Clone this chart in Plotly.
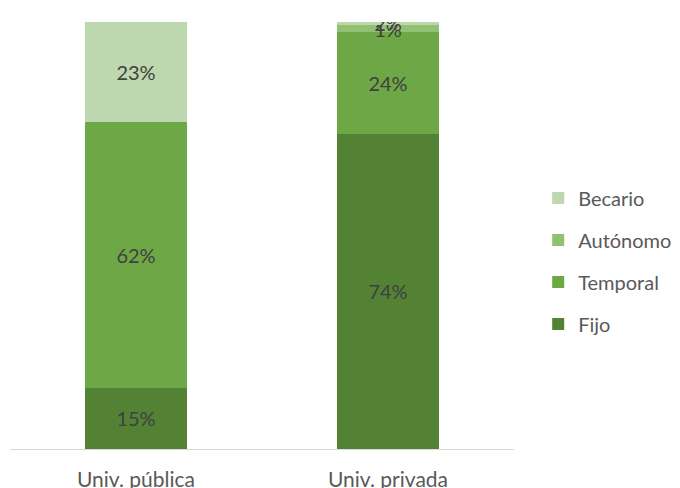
import plotly.graph_objects as go

categories = ["Univ. pública", "Univ. privada"]
series_names = ["Fijo", "Temporal", "Autónomo", "Becario"]
fijo = [14.3, 73.8]
temporal = [62.3, 23.8]
autonomo = [0.0, 1.7]
becario = [23.4, 0.7]
labels_fijo = ["15%", "74%"]
labels_temporal = ["62%", "24%"]
labels_autonomo = ["", "1%"]
labels_becario = ["23%", "2%"]

colors = ["#548235", "#6EA846", "#92C173", "#BDD7AE"]
values = [fijo, temporal, autonomo, becario]
labels = [labels_fijo, labels_temporal, labels_autonomo, labels_becario]
legend_ranks = [4, 3, 2, 1]

FONT = "Lato, Open Sans, sans-serif"

fig = go.Figure()
for name, vals, txt, col, rank in zip(series_names, values, labels, colors, legend_ranks):
    fig.add_trace(go.Bar(
        x=categories, y=vals, name=name, marker_color=col,
        marker_line_width=0,
        text=txt, textposition="inside", insidetextanchor="middle",
        textangle=0, texttemplate="%{text}",
        textfont=dict(color="#404040", size=20, family=FONT),
        legendgroup=name, legendrank=rank,
    ))

fig.update_layout(
    barmode="stack",
    bargap=0.595,
    width=680, height=488,
    margin=dict(l=2, r=174, t=14, b=47, autoexpand=False),
    paper_bgcolor="white", plot_bgcolor="white",
    font=dict(family=FONT, color="#595959"),
    uniformtext=dict(mode="show", minsize=20),
    showlegend=True,
    legend=dict(
        traceorder="grouped", tracegroupgap=13,
        x=1.048, xanchor="left", y=0.44, yanchor="middle",
        font=dict(size=20, color="#595959", family=FONT),
        itemwidth=30,
    ),
    xaxis=dict(
        showline=True, linecolor="#D9D9D9", linewidth=1,
        ticks="outside", ticklen=12, tickcolor="rgba(0,0,0,0)",
        tickfont=dict(size=21, color="#595959", family=FONT),
    ),
    yaxis=dict(range=[0, 100], showgrid=False, showticklabels=False,
               zeroline=False, showline=False),
)

fig.write_html("out.html")
